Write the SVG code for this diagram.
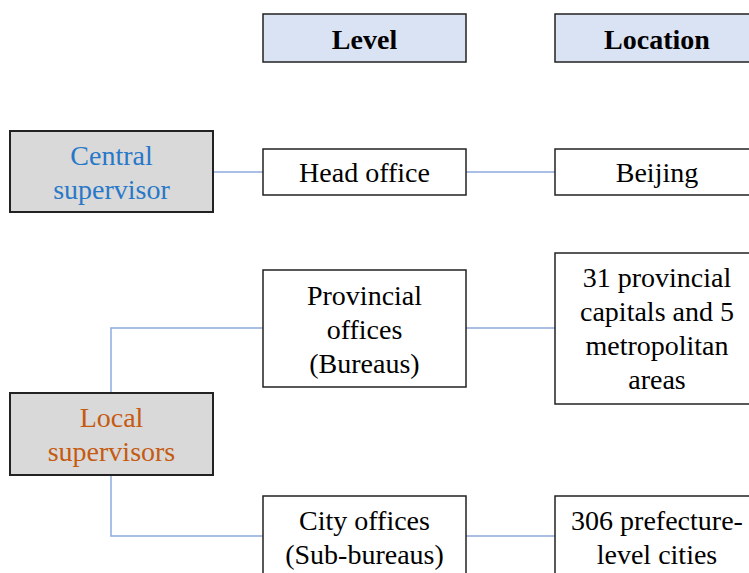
<svg xmlns="http://www.w3.org/2000/svg" width="749" height="573" viewBox="0 0 749 573">
<style>
text{font-family:"Liberation Serif","Times New Roman",serif;font-size:28px;text-anchor:middle;fill:#000}
.hdr{fill:#dae3f3;stroke:#222;stroke-width:1.5}
.sup{fill:#d9d9d9;stroke:#222;stroke-width:2}
.box{fill:#fff;stroke:#222;stroke-width:1.5}
.b{font-weight:bold}
.blue{fill:#2878c8}
.orange{fill:#c55a11}
.con{fill:none;stroke:#8faadc;stroke-width:1.5}
</style>
<rect width="749" height="573" fill="#fff"/>
<g id="connectors">
<line class="con" x1="213" y1="172" x2="263" y2="172"/>
<line class="con" x1="466" y1="172" x2="555" y2="172"/>
<polyline class="con" points="111,393 111,328 263,328"/>
<line class="con" x1="466" y1="328" x2="555" y2="328"/>
<polyline class="con" points="111,475 111,536 263,536"/>
<line class="con" x1="466" y1="536" x2="555" y2="536"/>
</g>
<g id="level-header"><rect class="hdr" x="263" y="14" width="203" height="48"/><text class="b" x="364.5" y="49">Level</text></g>
<g id="location-header"><rect class="hdr" x="555" y="14" width="204" height="48"/><text class="b" x="657" y="49">Location</text></g>
<g id="central-supervisor"><rect class="sup" x="10" y="131" width="203" height="81"/><text class="blue" x="111.5" y="165">Central</text><text class="blue" x="111.5" y="199">supervisor</text></g>
<g id="head-office"><rect class="box" x="263" y="149" width="203" height="46"/><text x="364.5" y="182">Head office</text></g>
<g id="beijing"><rect class="box" x="555" y="149" width="204" height="46"/><text x="657" y="182">Beijing</text></g>
<g id="provincial-offices"><rect class="box" x="263" y="270" width="203" height="117"/><text x="364.5" y="305">Provincial</text><text x="364.5" y="339">offices</text><text x="364.5" y="373">(Bureaus)</text></g>
<g id="provincial-capitals"><rect class="box" x="555" y="253" width="204" height="151"/><text x="657" y="287">31 provincial</text><text x="657" y="321">capitals and 5</text><text x="657" y="355">metropolitan</text><text x="657" y="389">areas</text></g>
<g id="local-supervisors"><rect class="sup" x="10" y="393" width="203" height="82"/><text class="orange" x="111.5" y="427">Local</text><text class="orange" x="111.5" y="461">supervisors</text></g>
<g id="city-offices"><rect class="box" x="263" y="496" width="203" height="90"/><text x="364.5" y="530">City offices</text><text x="364.5" y="564">(Sub-bureaus)</text></g>
<g id="prefecture-cities"><rect class="box" x="555" y="496" width="204" height="90"/><text x="657" y="530">306 prefecture-</text><text x="657" y="564">level cities</text></g>
</svg>
